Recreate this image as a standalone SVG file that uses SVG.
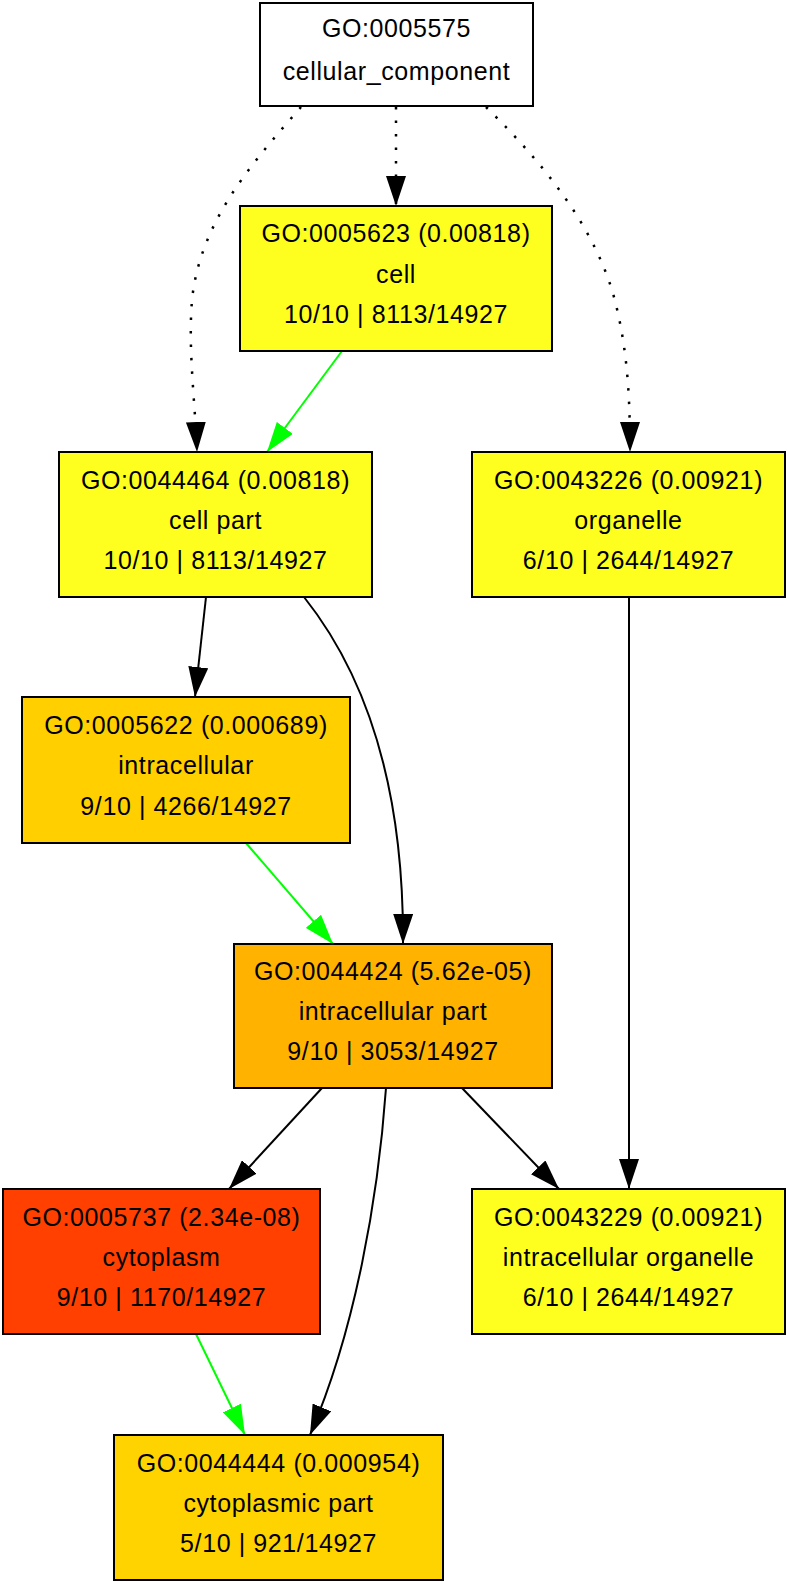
<svg xmlns="http://www.w3.org/2000/svg" width="787" height="1582" viewBox="0 0 787 1582">
<style>
.box{stroke:#000;stroke-width:2}
.lbl{font-family:"Liberation Sans",Arial,sans-serif;font-size:25px;letter-spacing:0.6px;text-anchor:middle;fill:#000}
.e{fill:none;stroke:#000;stroke-width:2}
.g{fill:none;stroke:#00ff00;stroke-width:2}
.d{fill:none;stroke:#000;stroke-width:2.5;stroke-dasharray:2.5 11}
</style>
<defs>
<marker id="ab" markerUnits="userSpaceOnUse" markerWidth="30" markerHeight="20" viewBox="0 0 30 20" refX="30" refY="10" orient="auto"><path d="M0,0 L30,10 L0,20 z" fill="#000"/></marker>
<marker id="ag" markerUnits="userSpaceOnUse" markerWidth="30" markerHeight="20" viewBox="0 0 30 20" refX="30" refY="10" orient="auto"><path d="M0,0 L30,10 L0,20 z" fill="#00ff00"/></marker>
</defs>
<rect width="787" height="1582" fill="#fff"/>
<g id="edges">
<path class="d" d="M301,107 C255,160 200,220 192,300 C188,350 195,400 197,452" marker-end="url(#ab)"/>
<path class="d" d="M396,107 L396,206" marker-end="url(#ab)"/>
<path class="d" d="M486,107 C540,160 590,220 612,290 C628,345 630,400 630,452" marker-end="url(#ab)"/>
<path class="g" d="M342,351 L267,452" marker-end="url(#ag)"/>
<path class="e" d="M206,597 L195,697" marker-end="url(#ab)"/>
<path class="e" d="M304,597 C362,670 404,780 403,944" marker-end="url(#ab)"/>
<path class="g" d="M246,843 L333,944" marker-end="url(#ag)"/>
<path class="e" d="M629,597 L629,1189" marker-end="url(#ab)"/>
<path class="e" d="M322,1088 L229,1189" marker-end="url(#ab)"/>
<path class="e" d="M462,1088 L559,1189" marker-end="url(#ab)"/>
<path class="e" d="M386,1088 C378,1200 355,1330 310,1435" marker-end="url(#ab)"/>
<path class="g" d="M196,1334 L245,1435" marker-end="url(#ag)"/>
</g>
<g id="n_GO0005575">
<rect class="box" x="260" y="3" width="273" height="103" fill="#fff"/>
<text class="lbl" x="396.5" y="37">GO:0005575</text>
<text class="lbl" x="396.5" y="80">cellular_component</text>
</g>
<g id="n_GO0005623">
<rect class="box" x="240" y="206" width="312" height="145" fill="#ffff1f"/>
<text class="lbl" x="396" y="242">GO:0005623 (0.00818)</text>
<text class="lbl" x="396" y="282.5">cell</text>
<text class="lbl" x="396" y="323">10/10 | 8113/14927</text>
</g>
<g id="n_GO0044464">
<rect class="box" x="59" y="452" width="313" height="145" fill="#ffff1f"/>
<text class="lbl" x="215.5" y="488.5">GO:0044464 (0.00818)</text>
<text class="lbl" x="215.5" y="528.5">cell part</text>
<text class="lbl" x="215.5" y="569">10/10 | 8113/14927</text>
</g>
<g id="n_GO0043226">
<rect class="box" x="472" y="452" width="313" height="145" fill="#ffff1f"/>
<text class="lbl" x="628.5" y="488.5">GO:0043226 (0.00921)</text>
<text class="lbl" x="628.5" y="528.5">organelle</text>
<text class="lbl" x="628.5" y="569">6/10 | 2644/14927</text>
</g>
<g id="n_GO0005622">
<rect class="box" x="22" y="697" width="328" height="146" fill="#ffcf00"/>
<text class="lbl" x="186" y="734">GO:0005622 (0.000689)</text>
<text class="lbl" x="186" y="774">intracellular</text>
<text class="lbl" x="186" y="814.5">9/10 | 4266/14927</text>
</g>
<g id="n_GO0044424">
<rect class="box" x="234" y="944" width="318" height="144" fill="#ffb300"/>
<text class="lbl" x="393" y="980">GO:0044424 (5.62e-05)</text>
<text class="lbl" x="393" y="1020">intracellular part</text>
<text class="lbl" x="393" y="1060">9/10 | 3053/14927</text>
</g>
<g id="n_GO0005737">
<rect class="box" x="3" y="1189" width="317" height="145" fill="#ff4000"/>
<text class="lbl" x="161.5" y="1225.5">GO:0005737 (2.34e-08)</text>
<text class="lbl" x="161.5" y="1265.5">cytoplasm</text>
<text class="lbl" x="161.5" y="1306">9/10 | 1170/14927</text>
</g>
<g id="n_GO0043229">
<rect class="box" x="472" y="1189" width="313" height="145" fill="#ffff1f"/>
<text class="lbl" x="628.5" y="1225.5">GO:0043229 (0.00921)</text>
<text class="lbl" x="628.5" y="1265.5">intracellular organelle</text>
<text class="lbl" x="628.5" y="1306">6/10 | 2644/14927</text>
</g>
<g id="n_GO0044444">
<rect class="box" x="114" y="1435" width="329" height="145" fill="#ffd300"/>
<text class="lbl" x="278.5" y="1471.5">GO:0044444 (0.000954)</text>
<text class="lbl" x="278.5" y="1511.5">cytoplasmic part</text>
<text class="lbl" x="278.5" y="1552">5/10 | 921/14927</text>
</g>
</svg>
